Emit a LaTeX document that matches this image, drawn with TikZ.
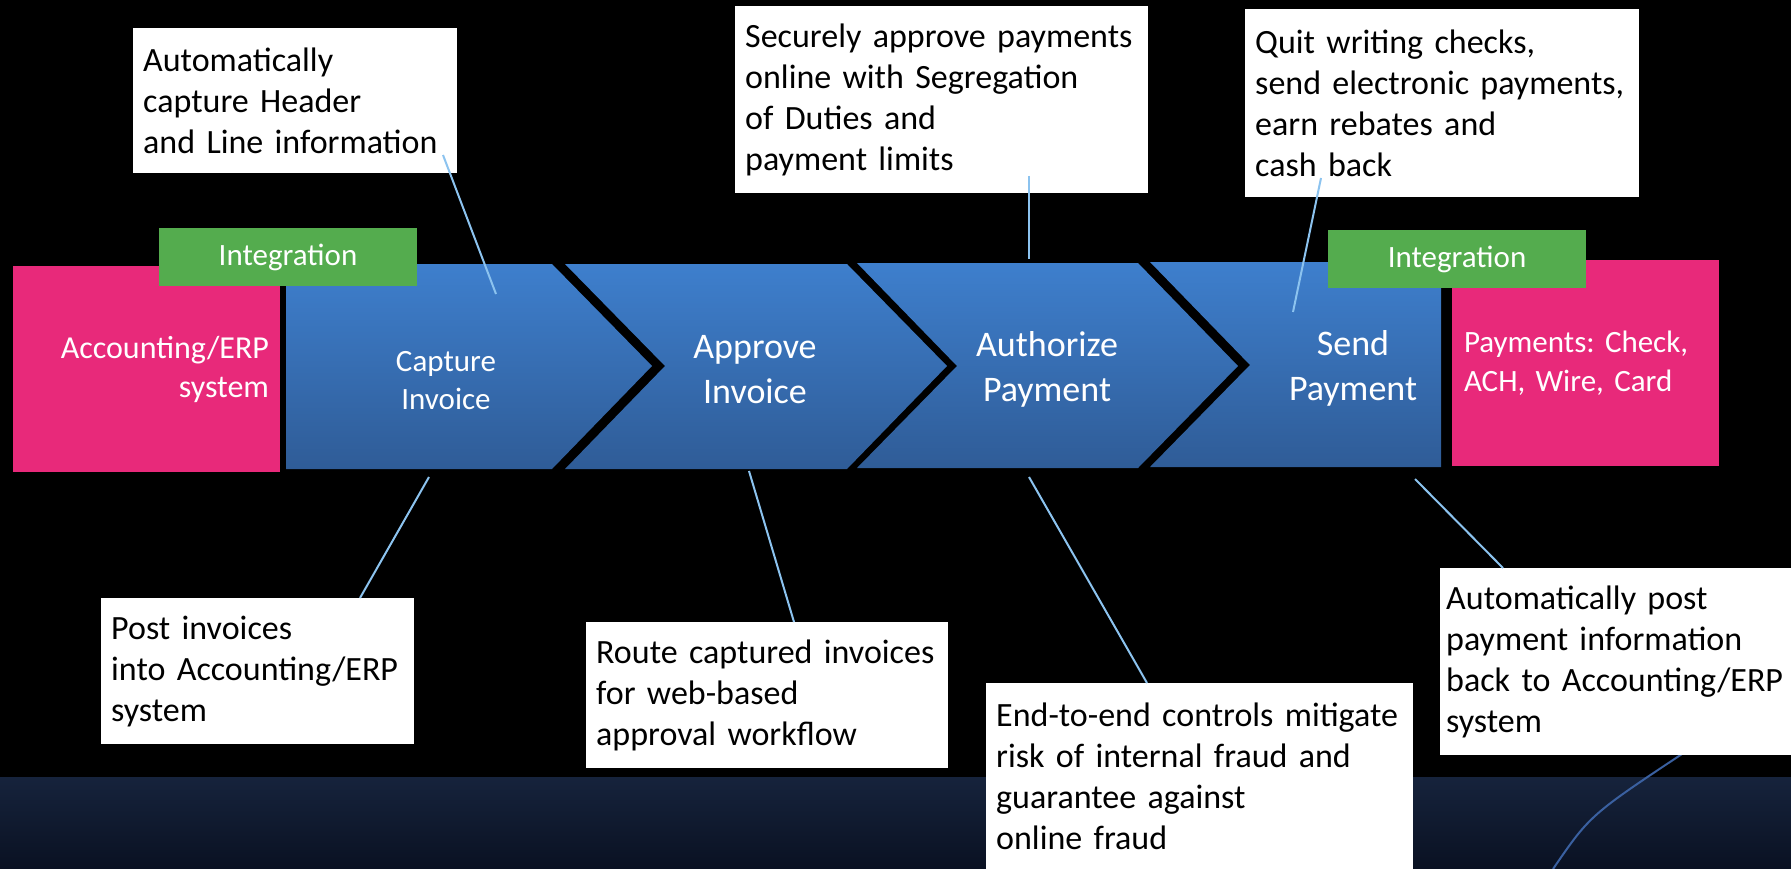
\documentclass[tikz,border=0pt]{standalone}
\usepackage{fontspec}
\setmainfont{Carlito}
\frenchspacing
\definecolor{erppink}{HTML}{E8297A}
\definecolor{intgreen}{HTML}{54AC4E}
\definecolor{chevtop}{HTML}{3E7FCD}
\definecolor{chevbot}{HTML}{2F5C97}
\definecolor{linkblue}{HTML}{8CC3EF}
\definecolor{bandtop}{HTML}{16233C}
\definecolor{bandbot}{HTML}{0A1122}
\definecolor{arcblue}{HTML}{3A60A0}
\newcommand{\notefont}{\fontsize{34pt}{41pt}\selectfont}
\newcommand{\stepfont}{\fontsize{36pt}{45pt}\selectfont}
\newcommand{\boxfont}{\fontsize{31pt}{39pt}\selectfont}
\begin{document}
\begin{tikzpicture}
[x=1pt,y=-1pt,
  chevfill/.style={top color=chevtop,bottom color=chevbot},
  steplabel/.style={text=white,align=center,font=\stepfont},
  erpbox/.style={fill=erppink,text=white,font=\boxfont,minimum height=206pt,inner ysep=0pt},
  intbox/.style={fill=intgreen,text=white,font=\boxfont,minimum width=258pt,minimum height=58pt,inner sep=0pt},
  notebox/.style={fill=white,text=black,font=\notefont,align=left,anchor=north west,inner ysep=0pt,inner xsep=10pt},
  linkline/.style={draw=linkblue,line width=2pt}]
\useasboundingbox (0,0) rectangle (1791,869);
% background
\fill[black] (0,0) rectangle (1791,869);
\fill[top color=bandtop,bottom color=bandbot] (0,777) rectangle (1791,869);
\draw[arcblue,line width=2pt] (1688,750) .. controls (1590,815) .. (1553,869);
% end systems
\node[erpbox,text width=245pt,inner xsep=11pt,align=right,font=\fontsize{32pt}{39pt}\selectfont] (erp) at (146.5,369) {Accounting/ERP\\system};
\node[erpbox,text width=243pt,inner xsep=12pt,align=left] (pay) at (1585.5,363) {Payments: Check,\\ACH, Wire, Card};
% process chevrons
\fill[chevfill] (286,264) -- (552,264) -- (652,366) -- (552,469) -- (286,469) -- cycle;
\fill[chevfill] (565,264) -- (847,264) -- (947,366) -- (847,469) -- (565,469) -- (665,366) -- cycle;
\fill[chevfill] (857,263) -- (1138,263) -- (1238,366) -- (1138,468) -- (857,468) -- (957,366) -- cycle;
\fill[chevfill] (1150,262) -- (1441,262) -- (1441,467) -- (1150,467) -- (1250,365) -- cycle;
\node[steplabel,font=\fontsize{31pt}{38pt}\selectfont] (capture) at (446,381) {Capture\\Invoice};
\node[steplabel] (approve) at (755,369.5) {Approve\\Invoice};
\node[steplabel] (authorize) at (1047,369.5) {Authorize\\Payment};
\node[steplabel] (send) at (1353,368) {Send\\Payment};
% integration tags
\node[intbox] (intleft) at (288,257) {Integration};
\node[intbox] (intright) at (1457,259) {Integration};
% callouts
\node[notebox,text width=304pt,minimum height=145pt] (notecap) at (133,28)
  {Automatically\\capture Header\\and Line information};
\node[notebox,text width=393pt,minimum height=187pt] (noteapp) at (735,6)
  {Securely approve payments\\online with Segregation\\of Duties and\\payment limits};
\node[notebox,text width=374pt,minimum height=188pt] (notesend) at (1245,9)
  {Quit writing checks,\\send electronic payments,\\earn rebates and\\cash back};
\node[notebox,text width=293pt,minimum height=146pt] (notepost) at (101,598)
  {Post invoices\\into Accounting/ERP\\system};
\node[notebox,text width=342pt,minimum height=146pt] (noteroute) at (586,622)
  {Route captured invoices\\for web-based\\approval workflow};
\node[notebox,text width=407pt,minimum height=187pt] (notefraud) at (986,683)
  {End-to-end controls mitigate\\risk of internal fraud and\\guarantee against\\online fraud};
\node[notebox,text width=350pt,inner xsep=6pt,minimum height=187pt] (noteback) at (1440,568)
  {Automatically post\\payment information\\back to Accounting/ERP\\system};
% connector ends
\coordinate (capfrom) at (443,155);
\coordinate (capto) at (496,294);
\coordinate (appfrom) at (1029,176);
\coordinate (appto) at (1029,259);
\coordinate (sendfrom) at (1321,178);
\coordinate (sendto) at (1293,312);
\coordinate (postfrom) at (429,477);
\coordinate (postto) at (360,598);
\coordinate (routefrom) at (749,471);
\coordinate (routeto) at (794,622);
\coordinate (fraudfrom) at (1029,477);
\coordinate (fraudto) at (1147,683);
\coordinate (backfrom) at (1415,479);
\coordinate (backto) at (1503,568);
\path
(capfrom) edge[linkline] (capto)
(appfrom) edge[linkline] (appto)
(sendfrom) edge[linkline] (sendto)
(postfrom) edge[linkline] (postto)
(routefrom) edge[linkline] (routeto)
(fraudfrom) edge[linkline] (fraudto)
(backfrom) edge[linkline] (backto);
\end{tikzpicture}
\end{document}
